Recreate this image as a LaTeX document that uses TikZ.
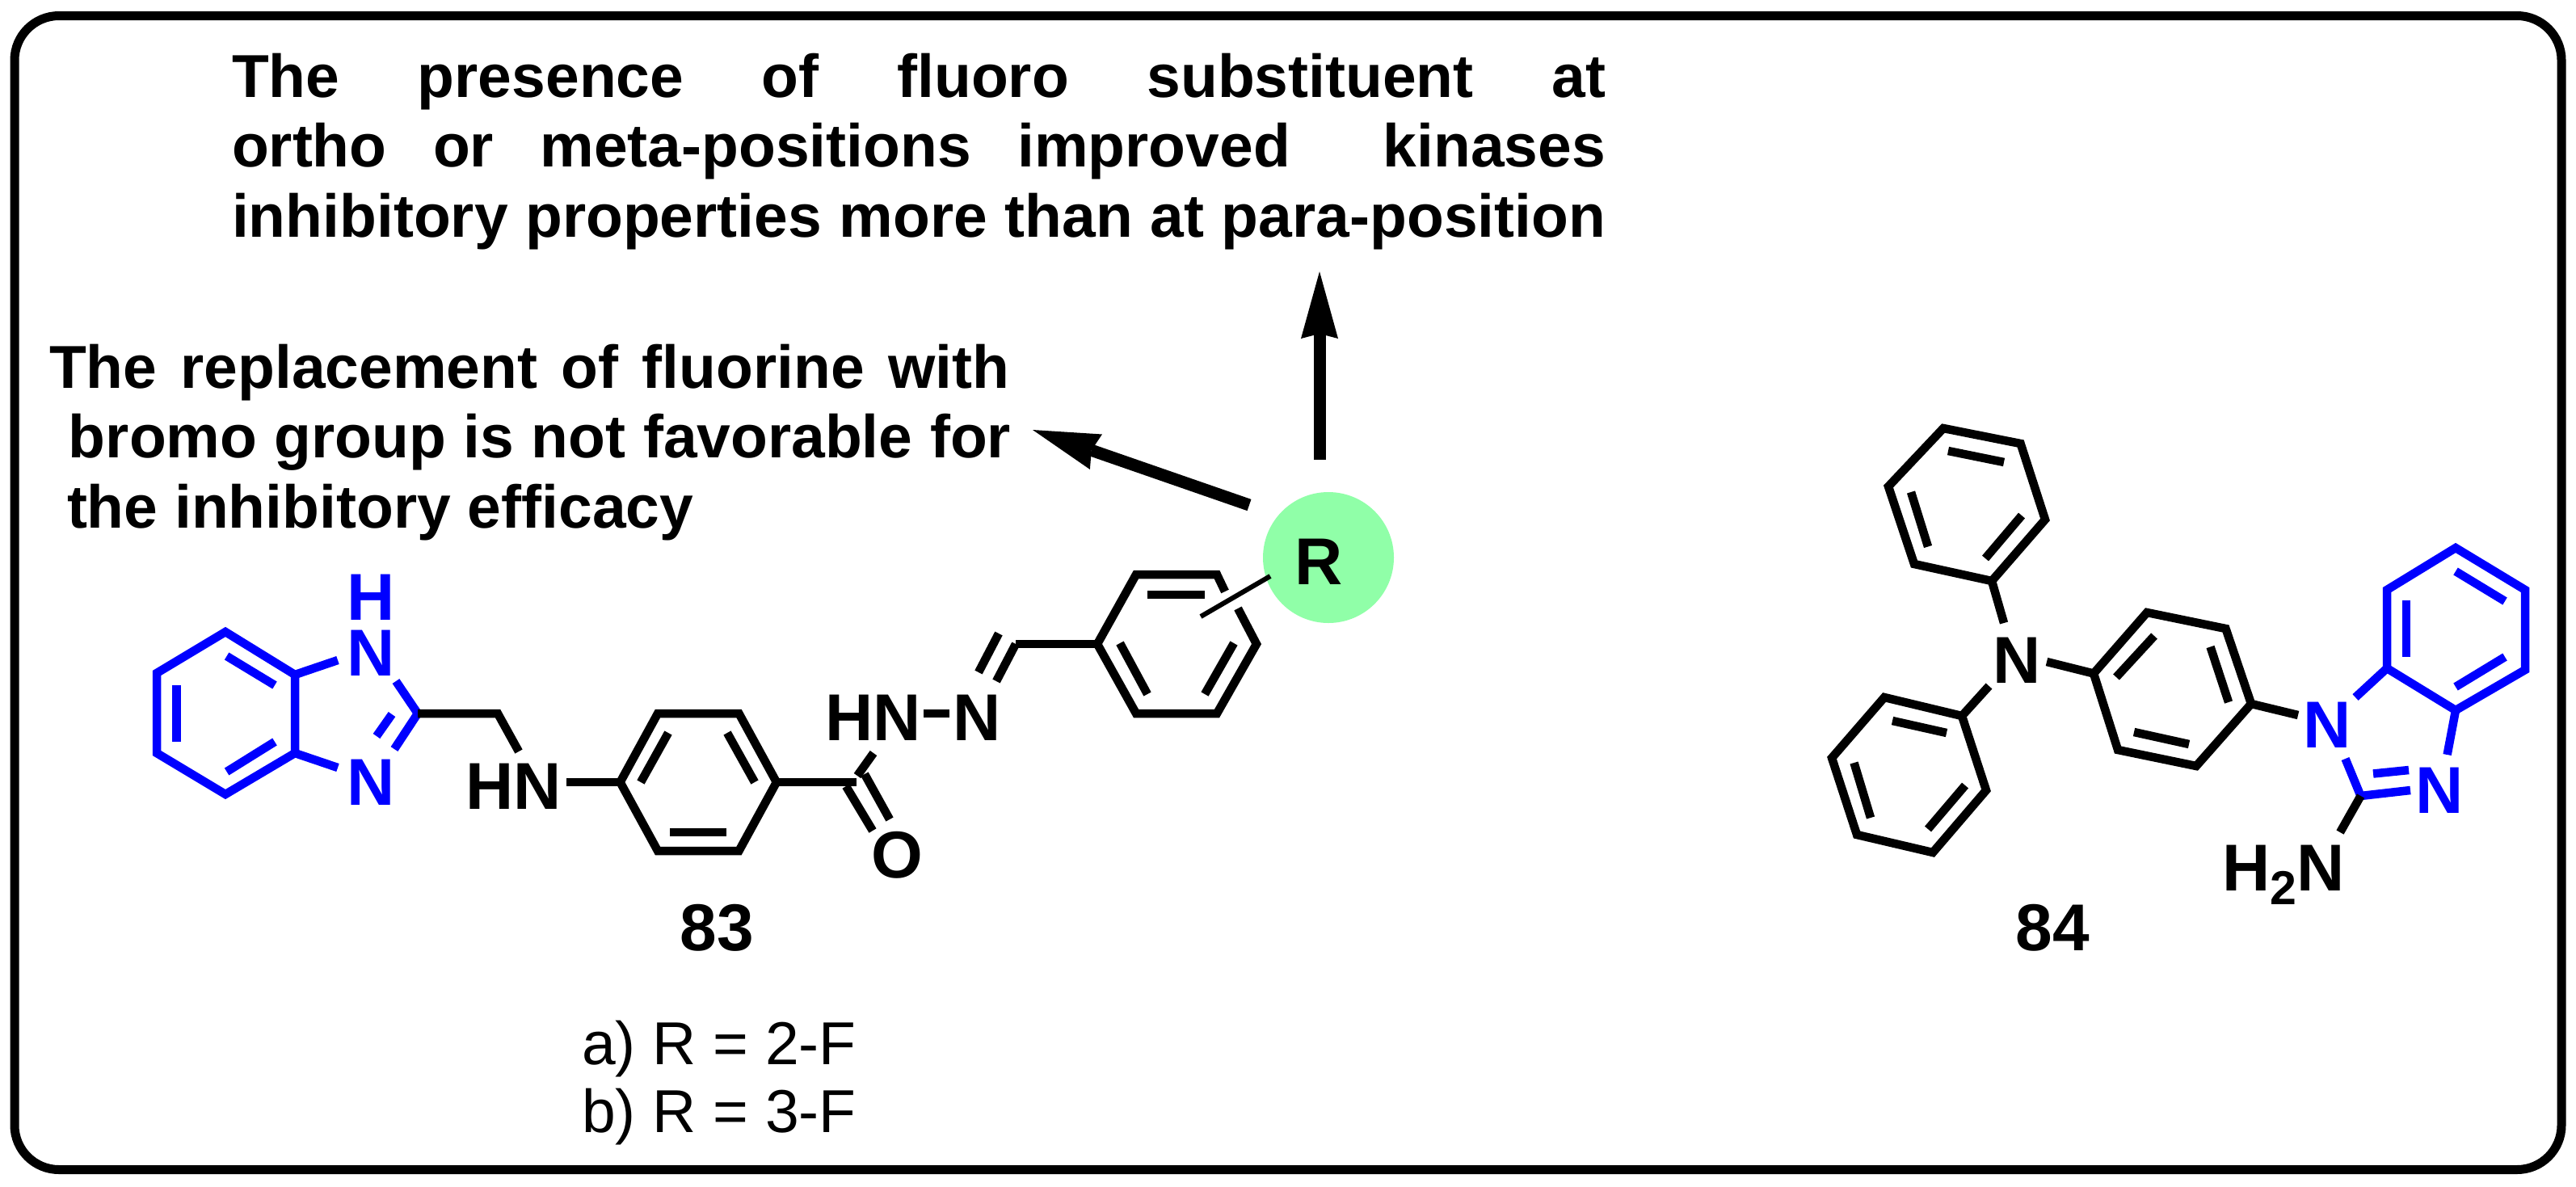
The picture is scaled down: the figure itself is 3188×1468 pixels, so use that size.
\documentclass[tikz,border=0pt]{standalone}
\usepackage{fontspec}
\setmainfont{Liberation Sans}
\usetikzlibrary{arrows.meta}
\definecolor{ringblue}{RGB}{0,0,255}
\definecolor{rgreen}{RGB}{144,255,168}
\newcommand{\atomfont}{\fontsize{41}{41}\bfseries\selectfont}
\newcommand{\capfont}{\fontsize{37.5}{43.25}\bfseries\selectfont}
\newcommand{\listfont}{\fontsize{37.5}{42}\selectfont}
\tikzset{
  x=0.5pt,y=-0.5pt,
  bond/.style={line width=5.25pt,line cap=butt,line join=miter,black},
  bluebond/.style={bond,ringblue},
  thinbond/.style={line width=3pt,line cap=butt,black},
  atom/.style={inner sep=0pt,outer sep=0pt,anchor=base,font=\atomfont,black},
  blueatom/.style={atom,text=ringblue},
  bigarrow/.style={line width=7.5pt,line cap=butt,black,-{Stealth[length=41.5pt,width=23pt,inset=3pt,line width=0pt,sep=0pt]}},
  frame/.style={line width=5.5pt,rounded corners=27.5pt,black},
  notetext/.style={inner sep=0pt,outer sep=0pt,anchor=north west,align=left,font=\capfont},
  listtext/.style={inner sep=0pt,outer sep=0pt,anchor=north west,align=left,font=\listfont},
}
\begin{document}
\begin{tikzpicture}
\useasboundingbox (0,0) rectangle (3188,1468);
\draw[frame] (18,19.5) rectangle (3170,1447.5);

% Notes
\node[notetext] (noteA) at (287,66) {%
  \makebox[1700\dimexpr0.5pt\relax][s]{The presence of fluoro substituent at}\\
  \makebox[1700\dimexpr0.5pt\relax][s]{ortho or meta-positions improved\ \ kinases}\\
  \makebox[1700\dimexpr0.5pt\relax][s]{inhibitory properties more than at para-position}};
\node[notetext] (noteB) at (61,426) {%
  \makebox[1188\dimexpr0.5pt\relax][s]{The replacement of fluorine with}\\
  \hspace*{12pt}\makebox[1166\dimexpr0.5pt\relax][s]{bromo group is not favorable for}\\
  \hspace*{11pt}the inhibitory efficacy};

% R group
\node[circle,fill=rgreen,minimum size=81pt,inner sep=0pt] (rdisk) at (1644,690) {};
\node[atom] (Rlab) at (1632,723) {R};
\coordinate (arrTailUp) at (1633,569);
\coordinate (arrTipUp) at (1633,336);
\coordinate (arrTailL) at (1546,625);
\coordinate (arrTipL) at (1278,532);
\draw[bigarrow] (arrTailUp) -- (arrTipUp);
\draw[bigarrow] (arrTailL) -- (arrTipL);

% ---- Compound 83 ----
\coordinate (a1) at (279,782);
\coordinate (a2) at (194,833);
\coordinate (a3) at (194,932);
\coordinate (a4) at (279,983);
\coordinate (a5) at (365,932);
\coordinate (a6) at (365,835);
\coordinate (a7) at (517,883);
\draw[bluebond] (a1) -- (a2) -- (a3) -- (a4) -- (a5) -- (a6) -- cycle;
\draw[bluebond] (218.6,848) -- (218.6,918);
\draw[bluebond] (280.6,812) -- (340,848);
\draw[bluebond] (340,918) -- (280.6,955);
\coordinate (n1e) at (418,817);
\coordinate (n3e) at (418,950);
\coordinate (c2n1) at (490,843);
\coordinate (c2n3) at (488,927);
\draw[bluebond] (a6) -- (n1e);
\draw[bluebond] (a5) -- (n3e);
\draw[bluebond] (c2n1) -- (a7) -- (c2n3);
\draw[bluebond] (485,884) -- (466,911);
\node[blueatom,anchor=south,align=center,font=\fontsize{41}{34.5}\bfseries\selectfont] (n1) at (459.5,836) {H\\N};
\node[blueatom] (n3) at (459.5,996) {N};
\coordinate (ch2) at (616,883);
\coordinate (ch2e) at (642,930);
\draw[bond] (a7) -- (ch2) -- (ch2e);
\node[atom] (hn1) at (636,1001) {HN};
\coordinate (hn1e) at (701,968);
\coordinate (b1) at (767.5,968);
\coordinate (b2) at (814,883);
\coordinate (b3) at (914.5,883);
\coordinate (b4) at (961,968);
\coordinate (b5) at (914.5,1053);
\coordinate (b6) at (814,1053);
\draw[bond] (hn1e) -- (b1);
\draw[bond] (b1) -- (b2) -- (b3) -- (b4) -- (b5) -- (b6) -- cycle;
\draw[bond] (827,907) -- (793,968);
\draw[bond] (900,907) -- (934,968);
\draw[bond] (829,1030) -- (899,1030);
\coordinate (co) at (1060,968);
\draw[bond] (b4) -- (co);
\draw[bond] (1061,960) -- (1081,932);
\draw[bond] (1047,973) -- (1080,1028);
\draw[bond] (1070,958) -- (1101,1014);
\node[atom] (oxy) at (1110,1086) {O};
\node[atom] (hn2) at (1080.5,916) {HN};
\node[atom] (n4) at (1209.5,916) {N};
\coordinate (hyA) at (1143,883);
\coordinate (hyB) at (1175,883);
\draw[bond] (hyA) -- (hyB);
\coordinate (ch) at (1257,797);
\coordinate (nb) at (1233,843);
\draw[bond] (nb) -- (ch);
\draw[bond] (1211,832) -- (1236,784);
\coordinate (d1) at (1358,797);
\coordinate (d2) at (1406,711);
\coordinate (d3) at (1506,711);
\coordinate (d4) at (1555,797);
\coordinate (d5) at (1506,883);
\coordinate (d6) at (1406,883);
\draw[bond] (ch) -- (d1);
\draw[bond] (1516,732) -- (d3) -- (d2) -- (d1) -- (d6) -- (d5) -- (d4) -- (1532,753);
\draw[bond] (1420,736) -- (1491,736);
\draw[bond] (1386,796) -- (1420,859);
\draw[bond] (1527,796) -- (1491,859);
\coordinate (rA) at (1486,763);
\coordinate (rB) at (1572,713);
\draw[thinbond] (rA) -- (rB);
\node[atom] (lab83) at (887,1176) {83};
\node[listtext] (rlist) at (720,1263) {a) R = 2-F\\b) R = 3-F};

% ---- Compound 84 ----
\coordinate (p1) at (2405,530);
\coordinate (p2) at (2500.6,549);
\coordinate (p3) at (2531,643);
\coordinate (p4) at (2465,719);
\coordinate (p5) at (2369,698);
\coordinate (p6) at (2337,602);
\draw[bond] (p1) -- (p2) -- (p3) -- (p4) -- (p5) -- (p6) -- cycle;
\draw[bond] (2411,558) -- (2480,572);
\draw[bond] (2365,609) -- (2386,676.5);
\draw[bond] (2457,691) -- (2502,638);
\node[atom] (nc) at (2496,845) {N};
\coordinate (nca) at (2480,771);
\coordinate (ncb) at (2461.5,849);
\coordinate (ncc) at (2533,819);
\draw[bond] (p4) -- (nca);
\coordinate (q1) at (2428,886);
\coordinate (q2) at (2332,863);
\coordinate (q3) at (2267,938);
\coordinate (q4) at (2298,1033);
\coordinate (q5) at (2392,1055);
\coordinate (q6) at (2458,978);
\draw[bond] (ncb) -- (q1);
\draw[bond] (q1) -- (q2) -- (q3) -- (q4) -- (q5) -- (q6) -- cycle;
\draw[bond] (2342,892) -- (2409,907);
\draw[bond] (2294.5,944) -- (2315,1012);
\draw[bond] (2386,1026) -- (2432,972);
\coordinate (m1) at (2591,833.5);
\coordinate (m2) at (2657,758);
\coordinate (m3) at (2754.5,778);
\coordinate (m4) at (2786,871);
\coordinate (m5) at (2718,948);
\coordinate (m6) at (2621,928);
\draw[bond] (ncc) -- (m1);
\draw[bond] (m1) -- (m2) -- (m3) -- (m4) -- (m5) -- (m6) -- cycle;
\draw[bond] (2619,838) -- (2666,787);
\draw[bond] (2735.5,800.5) -- (2758,869);
\draw[bond] (2641,906) -- (2709,921);
\coordinate (n84a) at (2844,885);
\draw[bond] (m4) -- (n84a);
\node[blueatom] (n84) at (2880.5,925) {N};
\node[blueatom] (n84b) at (3019,1006) {N};
\coordinate (e1) at (2954,827);
\coordinate (e2) at (2954,730);
\coordinate (e3) at (3039,678);
\coordinate (e4) at (3125,730);
\coordinate (e5) at (3125,829);
\coordinate (e6) at (3039,879);
\draw[bluebond] (e1) -- (e2) -- (e3) -- (e4) -- (e5) -- (e6) -- cycle;
\draw[bluebond] (2978,743) -- (2978,813);
\draw[bluebond] (3039,707) -- (3100,744);
\draw[bluebond] (3100,813) -- (3039,850);
\coordinate (n1s) at (2915,863);
\coordinate (n3s) at (3028.6,934);
\draw[bluebond] (e1) -- (n1s);
\draw[bluebond] (e6) -- (n3s);
\coordinate (c84) at (2921.5,985);
\coordinate (c84a) at (2902.5,939);
\coordinate (c84b) at (2983,978);
\coordinate (nh2e) at (2896,1030);
\draw[bluebond] (c84a) -- (c84) -- (c84b);
\draw[bluebond] (2937,957.5) -- (2981,953);
\draw[bond] (c84) -- (nh2e);
\node[atom] (nh2) at (2826,1102) {H\raisebox{-8.5pt}{\fontsize{29.5}{29.5}\bfseries\selectfont 2}N};
\node[atom] (lab84) at (2540,1176) {84};
\end{tikzpicture}
\end{document}
